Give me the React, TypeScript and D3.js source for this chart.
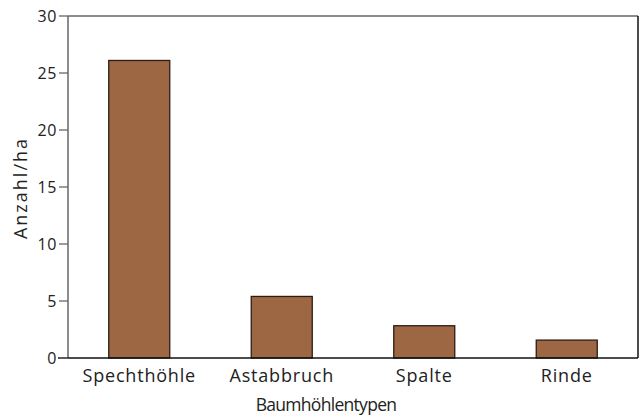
import React from "react";
import * as d3 from "d3";

const categories = ["Spechthöhle", "Astabbruch", "Spalte", "Rinde"];
const values = [26.1, 5.4, 2.83, 1.57];
const yTicks = [0, 5, 10, 15, 20, 25, 30];
const xTitle = "Baumhöhlentypen";
const yTitle = "Anzahl/ha";

const W = 642, H = 417;
const m = { left: 68, right: 4, top: 16, bottom: 59 };
const FONT = "'Open Sans', Lato, sans-serif";

export default function App() {
  const x = d3.scaleBand<string>().domain(categories).range([m.left, W - m.right]).paddingInner(0.572).paddingOuter(0.286);
  const y = d3.scaleLinear().domain([0, 30]).range([H - m.bottom, m.top]);
  const x0 = m.left, x1 = W - m.right, y0 = H - m.bottom, y1 = m.top;
  const fill = "#222";
  return (
    <svg width={W} height={H} style={{ position: "absolute", left: 0, top: 0, background: "#fff" }} fontFamily={FONT}>
      {categories.map((c, i) => (
        <rect key={c} x={x(c)!} y={y(values[i])} width={x.bandwidth()} height={y(0) - y(values[i])}
          fill="#9c6742" stroke="#2b1d14" strokeWidth={1.3} />
      ))}
      <line x1={x0} x2={x1} y1={y1} y2={y1} stroke="#666" strokeWidth={1.5} />
      <line x1={x0} x2={x0} y1={y1} y2={y0} stroke="#666" strokeWidth={1.5} />
      <line x1={x1} x2={x1} y1={y1} y2={y0} stroke="#111" strokeWidth={1.5} />
      <line x1={x0 - 10} x2={x1} y1={y0} y2={y0} stroke="#111" strokeWidth={1.5} />
      {yTicks.map((t) => (
        <g key={t}>
          <line x1={x0 - 9} x2={x0} y1={y(t)} y2={y(t)} stroke="#666" strokeWidth={1.3} />
          <text x={x0 - 11} y={y(t)} dy="0.36em" textAnchor="end" fontSize={16} letterSpacing={0.6} fill={fill}>{t}</text>
        </g>
      ))}
      {categories.map((c) => (
        <text key={c} x={x(c)! + x.bandwidth() / 2} y={382} textAnchor="middle" fontSize={18} letterSpacing={0.8} fill={fill}>{c}</text>
      ))}
      <text x={326} y={411} textAnchor="middle" fontSize={17.5} letterSpacing={-0.7} fill={fill}>{xTitle}</text>
      <text transform={`translate(27,188) rotate(-90)`} textAnchor="middle" fontSize={18} letterSpacing={2} fill={fill}>{yTitle}</text>
    </svg>
  );
}
